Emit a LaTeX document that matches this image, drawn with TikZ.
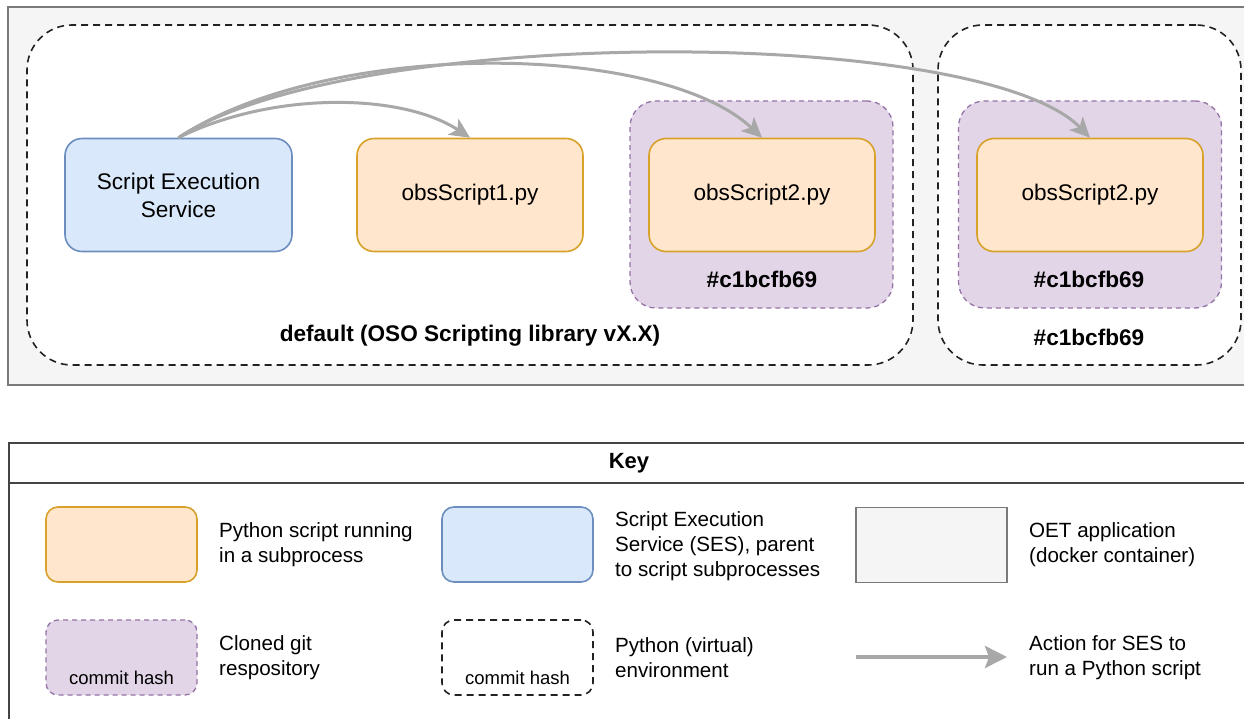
\documentclass[tikz,border=0pt]{standalone}
\usepackage{fontspec}
\setmainfont{Liberation Sans}
\usetikzlibrary{arrows.meta}
\definecolor{oetfill}{HTML}{F5F5F5}
\definecolor{oetdraw}{HTML}{7A7A7A}
\definecolor{sesfill}{HTML}{DAE8FC}
\definecolor{sesdraw}{HTML}{6C8EBF}
\definecolor{pyfill}{HTML}{FFE6CC}
\definecolor{pydraw}{HTML}{D8A22A}
\definecolor{gitfill}{HTML}{E1D5E7}
\definecolor{gitdraw}{HTML}{9673A6}
\definecolor{arrowc}{HTML}{A8A8A8}
\definecolor{envdraw}{HTML}{222222}
\definecolor{keydraw}{HTML}{444444}
\tikzset{
  mainfont/.style={font=\fontsize{22.6}{28}\selectfont},
  keyfont/.style={font=\fontsize{20.6}{25}\selectfont},
  smallfont/.style={font=\fontsize{18.5}{22}\selectfont},
  scriptbox/.style={rectangle, inner sep=0pt, line width=1.6pt, rounded corners=17pt, align=center, mainfont},
  sesbox/.style={scriptbox, fill=sesfill, draw=sesdraw},
  pybox/.style={scriptbox, fill=pyfill, draw=pydraw},
  gitbox/.style={rectangle, inner sep=0pt, fill=gitfill, draw=gitdraw, line width=1.3pt, dash pattern=on 5pt off 4pt, rounded corners=26pt},
  envbox/.style={rectangle, inner sep=0pt, fill=white, draw=envdraw, line width=1.6pt, dash pattern=on 7pt off 5pt, rounded corners=45pt},
  oetbox/.style={rectangle, inner sep=0pt, fill=oetfill, draw=oetdraw, line width=1.5pt},
  action/.style={draw=arrowc, line width=3pt, -{Stealth[length=20pt,width=19pt,inset=5pt]}},
  keyaction/.style={draw=arrowc, line width=3.6pt, -{Stealth[length=22pt,width=22pt,inset=4pt]}},
  boldlabel/.style={inner sep=0pt, font=\fontsize{22.6}{28}\selectfont\bfseries},
  keytext/.style={inner sep=0pt, anchor=west, align=left, keyfont},
  keysmall/.style={rectangle, inner sep=0pt, minimum width=151pt, minimum height=75pt, rounded corners=12pt},
}
\begin{document}
\begin{tikzpicture}[x=1pt,y=-1pt]
\clip (0,0) rectangle (1244,719);
\fill[white] (0,0) rectangle (1244,719);
% OET container
\node[oetbox, minimum width=1252pt, minimum height=378pt] (oet) at (634,196) {};
% environments
\node[envbox, minimum width=886pt, minimum height=340pt] (env1) at (470,195) {};
\node[envbox, minimum width=303pt, minimum height=340pt] (env2) at (1089.5,195) {};
% git repos
\node[gitbox, minimum width=263pt, minimum height=207pt] (git1) at (761.5,204.5) {};
\node[gitbox, minimum width=263pt, minimum height=207pt] (git2) at (1090,204.5) {};
% scripts
\node[sesbox, minimum width=227pt, minimum height=113pt] (ses) at (178.5,195) {Script Execution\\Service};
\node[pybox, minimum width=226pt, minimum height=113pt] (s1) at (470,195) {obsScript1.py};
\node[pybox, minimum width=226pt, minimum height=113pt] (s2) at (762,195) {obsScript2.py};
\node[pybox, minimum width=226pt, minimum height=113pt] (s3) at (1090,195) {obsScript2.py};
% labels
\node[boldlabel] (lab1) at (470,336) {default (OSO Scripting library vX.X)};
\node[boldlabel] (lab2) at (762,279) {\#c1bcfb69};
\node[boldlabel] (lab3) at (1089,279) {\#c1bcfb69};
\node[boldlabel] (lab4) at (1089,337) {\#c1bcfb69};
% connectors
\draw[action] (ses.north) .. controls (270,92) and (400,92) .. (s1.north);
\draw[action] (ses.north) .. controls (330,38) and (660,42) .. (s2.north);
\draw[action] (ses.north) .. controls (350,25) and (980,25) .. (s3.north);

% Key
\node[rectangle, inner sep=0pt, draw=keydraw, line width=1.8pt, fill=white, minimum width=1260pt, minimum height=300pt, anchor=north west] (key) at (8,442) {};
\coordinate (hl) at (8,483);
\coordinate (hr) at (1260,483);
\draw[keydraw, line width=1.8pt] (hl) -- (hr);
\node[inner sep=0pt, font=\fontsize{22}{26}\selectfont\bfseries] (keytitle) at (629,463) {Key};

\node[keysmall, fill=pyfill, draw=pydraw, line width=1.6pt] (k1) at (121.5,544.5) {};
\node[keytext] (t1) at (219,545) {Python script running\\in a subprocess};
\node[keysmall, fill=sesfill, draw=sesdraw, line width=1.6pt] (k2) at (517.5,544.5) {};
\node[keytext] (t2) at (615,546) {Script Execution\\Service (SES), parent\\to script subprocesses};
\node[keysmall, rounded corners=0pt, fill=oetfill, draw=oetdraw, line width=1.5pt] (k3) at (931.5,545) {};
\node[keytext] (t3) at (1029,545) {OET application\\(docker container)};

\node[keysmall, fill=gitfill, draw=gitdraw, line width=1.3pt, dash pattern=on 5pt off 4pt] (k4) at (121.5,657.5) {};
\node[inner sep=0pt, smallfont] (c4) at (121.5,678) {commit hash};
\node[keytext] (t4) at (219,658) {Cloned git\\respository};
\node[keysmall, fill=white, draw=envdraw, line width=1.6pt, dash pattern=on 7pt off 5pt] (k5) at (517.5,657.5) {};
\node[inner sep=0pt, smallfont] (c5) at (517.5,678) {commit hash};
\node[keytext] (t5) at (615,658) {Python (virtual)\\environment};
\coordinate (ka) at (856,657);
\coordinate (kb) at (1007,657);
\draw[keyaction] (ka) -- (kb);
\node[keytext] (t6) at (1029,658) {Action for SES to\\run a Python script};
\end{tikzpicture}
\end{document}
